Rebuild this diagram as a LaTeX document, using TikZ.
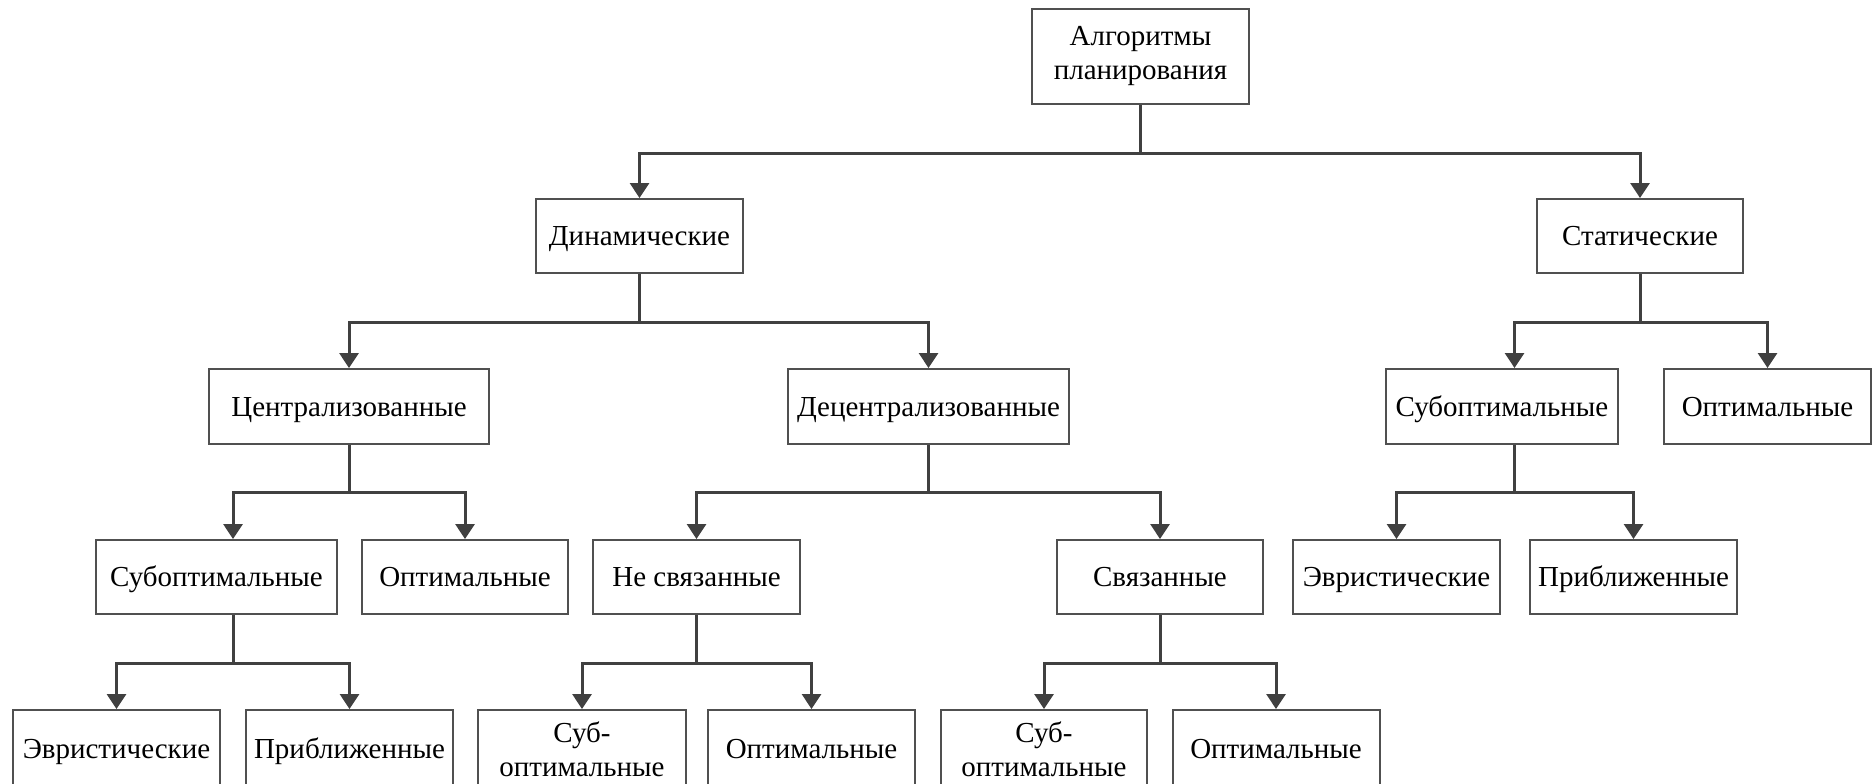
\documentclass[tikz,border=0pt]{standalone}
\usepackage{fontspec}
\setmainfont{Liberation Serif}
\usetikzlibrary{arrows.meta}
\definecolor{linec}{HTML}{404040}
\definecolor{boxc}{HTML}{505050}
\begin{document}
\begin{tikzpicture}[x=1pt,y=-1pt,
  box/.style={draw=boxc, line width=2pt, fill=white, inner sep=0pt,
    align=center, font=\fontsize{29}{34}\selectfont},
  oneline/.style={box, text height=21pt, text depth=2pt},
  link/.style={draw=linec, line width=3pt,
    -{Triangle[length=15pt,width=19pt]}}]
\fill[white] (0,0) rectangle (1872,784);
\useasboundingbox (0,0) rectangle (1872,784);

% bus levels and off-centre taps
\coordinate (busA) at (0,153);
\coordinate (busB) at (0,322);
\coordinate (busC) at (0,492);
\coordinate (busD) at (0,663);
\coordinate (tapL) at (233,0);
\coordinate (tapR) at (1514.5,0);

% level 0
\node[box, minimum width=217pt, minimum height=95pt] (root) at (1140.5,56.5)
  {Алгоритмы\\планирования};
% level 1
\node[oneline, minimum width=207pt, minimum height=74pt] (dyn) at (639.5,236) {Динамические};
\node[oneline, minimum width=206pt, minimum height=74pt] (stat) at (1640,236) {Статические};
% level 2
\node[oneline, minimum width=280pt, minimum height=75pt] (cen) at (349,406.5) {Централизованные};
\node[oneline, minimum width=281pt, minimum height=75pt] (dec) at (928.5,406.5) {Децентрализованные};
\node[oneline, minimum width=232pt, minimum height=75pt] (ssub) at (1502,406.5) {Субоптимальные};
\node[oneline, minimum width=207pt, minimum height=75pt] (sopt) at (1767.5,406.5) {Оптимальные};
% level 3
\node[oneline, minimum width=241pt, minimum height=74pt] (csub) at (216.5,577) {Субоптимальные};
\node[oneline, minimum width=206pt, minimum height=74pt] (copt) at (465,577) {Оптимальные};
\node[oneline, minimum width=207pt, minimum height=74pt] (nsv) at (696.5,577) {Не связанные};
\node[oneline, minimum width=206pt, minimum height=74pt] (sv) at (1160,577) {Связанные};
\node[oneline, minimum width=207pt, minimum height=74pt] (seur) at (1396.5,577) {Эвристические};
\node[oneline, minimum width=207pt, minimum height=74pt] (sapr) at (1633.5,577) {Приближенные};
% level 4
\node[oneline, minimum width=207pt, minimum height=78pt] (ceur) at (116.5,749) {Эвристические};
\node[oneline, minimum width=207pt, minimum height=78pt] (capr) at (349.5,749) {Приближенные};
\node[box, minimum width=208pt, minimum height=78pt] (nsub) at (582,749) {Суб-\\оптимальные};
\node[oneline, minimum width=207pt, minimum height=78pt] (nopt) at (811.5,749) {Оптимальные};
\node[box, minimum width=206pt, minimum height=78pt] (vsub) at (1044,749) {Суб-\\оптимальные};
\node[oneline, minimum width=207pt, minimum height=78pt] (vopt) at (1276,749) {Оптимальные};

% connectors
\draw[link] (root.south) -- (root.south |- busA) -| (dyn.north);
\draw[link] (root.south) -- (root.south |- busA) -| (stat.north);

\draw[link] (dyn.south) -- (dyn.south |- busB) -| (cen.north);
\draw[link] (dyn.south) -- (dyn.south |- busB) -| (dec.north);
\draw[link] (stat.south) -- (stat.south |- busB) -| (tapR |- ssub.north);
\draw[link] (stat.south) -- (stat.south |- busB) -| (sopt.north);

\draw[link] (cen.south) -- (cen.south |- busC) -| (tapL |- csub.north);
\draw[link] (cen.south) -- (cen.south |- busC) -| (copt.north);
\draw[link] (dec.south) -- (dec.south |- busC) -| (nsv.north);
\draw[link] (dec.south) -- (dec.south |- busC) -| (sv.north);
\draw[link] (tapR |- ssub.south) -- (tapR |- busC) -| (seur.north);
\draw[link] (tapR |- ssub.south) -- (tapR |- busC) -| (sapr.north);

\draw[link] (tapL |- csub.south) -- (tapL |- busD) -| (ceur.north);
\draw[link] (tapL |- csub.south) -- (tapL |- busD) -| (capr.north);
\draw[link] (nsv.south) -- (nsv.south |- busD) -| (nsub.north);
\draw[link] (nsv.south) -- (nsv.south |- busD) -| (nopt.north);
\draw[link] (sv.south) -- (sv.south |- busD) -| (vsub.north);
\draw[link] (sv.south) -- (sv.south |- busD) -| (vopt.north);
\end{tikzpicture}
\end{document}
